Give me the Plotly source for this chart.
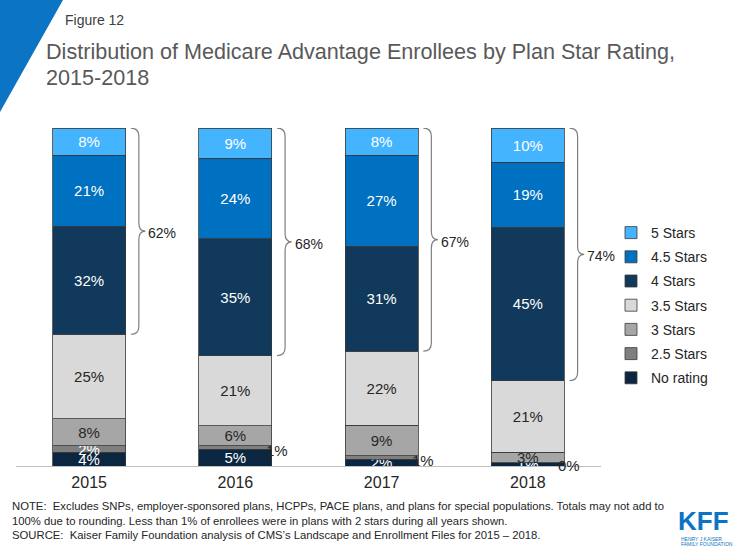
import plotly.graph_objects as go

years = ["2015", "2016", "2017", "2018"]
series_names = ["No rating", "2.5 Stars", "3 Stars", "3.5 Stars", "4 Stars", "4.5 Stars", "5 Stars"]
no_rating = [4, 5, 2, 1]
stars_2_5 = [2, 1, 1, 0]
stars_3 = [8, 6, 9, 3]
stars_3_5 = [25, 21, 22, 21]
stars_4 = [32, 35, 31, 45]
stars_4_5 = [21, 24, 27, 19]
stars_5 = [8, 9, 8, 10]
brace_labels = ["62%", "68%", "67%", "74%"]

values = [no_rating, stars_2_5, stars_3, stars_3_5, stars_4, stars_4_5, stars_5]
colors = ["#0B2641", "#7F7F7F", "#A6A6A6", "#D9D9D9", "#10395B", "#0070C0", "#45B4FF"]
text_colors = ["white", "white", "#262626", "#262626", "white", "white", "white"]

FONT = "Liberation Sans, Arial, sans-serif"

# plot area in pixels
L, R, T, B = 16, 601, 128, 466
W, H = R - L, B - T


def px(x):
    return (x - L) / W


def py(y):
    return (B - y) / H


xs = list(range(len(years)))
fig = go.Figure()
for k, (name, vals) in enumerate(zip(series_names, values)):
    if name == "2.5 Stars":
        texts = [f"{v}%" if i == 0 else "" for i, v in enumerate(vals)]
    else:
        texts = [f"{v}%" for v in vals]
    fig.add_trace(go.Bar(
        x=xs, y=vals, name=name, width=0.5,
        marker=dict(color=colors[k], line=dict(color="#3A3A3A", width=0.8)),
        text=texts, textposition="inside", insidetextanchor="middle",
        textfont=dict(size=15, color=text_colors[k], family=FONT),
        legendgroup=name, legendrank=100 - 10 * k, cliponaxis=False,
    ))

# normalized cumulative values
totals = [sum(v[i] for v in values) for i in range(len(years))]
norm = [[v[i] * 100.0 / totals[i] for i in range(len(years))] for v in values]

shapes = []
annotations = []
r = 2.4
for i in range(len(years)):
    yt = 100.0
    yb = sum(norm[k][i] for k in range(4))
    ym = (yt + yb) / 2
    x0, xv, xt = i + 0.285, i + 0.34, i + 0.385
    path = (f"M {x0},{yt} Q {xv},{yt} {xv},{yt - r} L {xv},{ym + r} "
            f"Q {xv},{ym} {xt},{ym} Q {xv},{ym} {xv},{ym - r} "
            f"L {xv},{yb + r} Q {xv},{yb} {x0},{yb}")
    shapes.append(dict(type="path", path=path, xref="x", yref="y",
                       line=dict(color="#7F7F7F", width=1.2)))
    annotations.append(dict(x=i + 0.392, y=ym - 0.6, xref="x", yref="y", text=brace_labels[i],
                            showarrow=False, xanchor="left", yanchor="middle",
                            font=dict(size=14, color="#262626", family=FONT)))
    # outside labels for tiny 2.5-star segments
    if i > 0:
        ymid = norm[0][i] + norm[1][i] / 2
        annotations.append(dict(x=i + 0.284, y=ymid - 0.9, xref="x", yref="y",
                                text=f"{stars_2_5[i]}%", showarrow=False,
                                xanchor="center", yanchor="middle",
                                font=dict(size=15, color="#262626", family=FONT)))

# blue triangle top-left
shapes.append(dict(type="path", xref="paper", yref="paper",
                   path=f"M {px(0)},{py(0)} L {px(63)},{py(0)} L {px(0)},{py(112)} Z",
                   fillcolor="#0B74C4", line=dict(width=0), layer="above"))

FOOT = dict(size=11.3, color="#262626", family=FONT)
annotations += [
    dict(x=px(63), y=py(20), xref="paper", yref="paper", text="Figure 12", showarrow=False,
         xanchor="left", yanchor="middle", font=dict(size=14, color="#404040", family=FONT)),
    dict(x=px(44), y=py(51), xref="paper", yref="paper",
         text="Distribution of Medicare Advantage Enrollees by Plan Star Rating,", showarrow=False,
         xanchor="left", yanchor="middle", font=dict(size=21.6, color="#595959", family=FONT)),
    dict(x=px(44), y=py(78), xref="paper", yref="paper", text="2015-2018", showarrow=False,
         xanchor="left", yanchor="middle", font=dict(size=21.6, color="#595959", family=FONT)),
    dict(x=px(10), y=py(506), xref="paper", yref="paper",
         text="NOTE:  Excludes SNPs, employer-sponsored plans, HCPPs, PACE plans, and plans for special populations. Totals may not add to",
         showarrow=False, xanchor="left", yanchor="middle", font=FOOT),
    dict(x=px(10), y=py(520.5), xref="paper", yref="paper",
         text="100% due to rounding. Less than 1% of enrollees were in plans with 2 stars during all years shown.",
         showarrow=False, xanchor="left", yanchor="middle", font=FOOT),
    dict(x=px(10), y=py(535), xref="paper", yref="paper",
         text="SOURCE:  Kaiser Family Foundation analysis of CMS’s Landscape and Enrollment Files for 2015 – 2018.",
         showarrow=False, xanchor="left", yanchor="middle", font=FOOT),
    dict(x=px(703), y=py(521), xref="paper", yref="paper", text="<b>KFF</b>", showarrow=False,
         xanchor="center", yanchor="middle", font=dict(size=26, color="#0B74C4", family=FONT)),
    dict(x=px(679), y=py(538.5), xref="paper", yref="paper", text="HENRY J KAISER", showarrow=False,
         xanchor="left", yanchor="middle", font=dict(size=5, color="#0B74C4", family=FONT)),
    dict(x=px(679), y=py(544), xref="paper", yref="paper", text="FAMILY FOUNDATION", showarrow=False,
         xanchor="left", yanchor="middle", font=dict(size=5, color="#0B74C4", family=FONT)),
]

fig.update_layout(
    width=735, height=551,
    margin=dict(l=L, r=735 - R, t=T, b=551 - B),
    barmode="stack", barnorm="percent",
    paper_bgcolor="white", plot_bgcolor="white",
    font=dict(family=FONT, color="#262626"),
    showlegend=True,
    legend=dict(x=px(611), y=py(217), xanchor="left", yanchor="top",
                traceorder="grouped", tracegroupgap=3,
                font=dict(size=14, color="#262626", family=FONT),
                bgcolor="rgba(0,0,0,0)"),
    uniformtext=dict(minsize=15, mode="show"),
    xaxis=dict(range=[-0.5, 3.5], tickvals=xs, ticktext=years, showgrid=False,
               showline=True, linecolor="#BFBFBF", linewidth=1, ticks="", zeroline=False,
               ticklabelstandoff=2,
               tickfont=dict(size=16, color="#262626", family=FONT)),
    yaxis=dict(range=[0, 100.05], visible=False, showgrid=False),
    shapes=shapes,
    annotations=annotations,
)

fig.write_html("out.html")
